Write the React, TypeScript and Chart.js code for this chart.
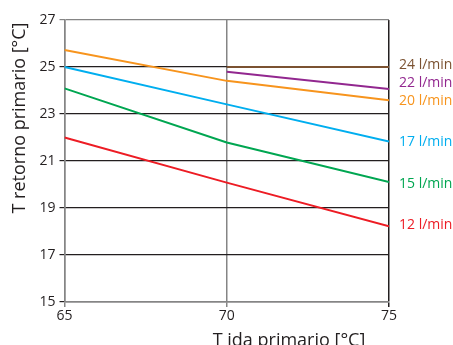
import React, { useEffect, useRef } from "react";
import { Chart, registerables } from "chart.js";

Chart.register(...registerables);

const xValues = [65, 70, 75];
const seriesLabels = ["24 l/min", "22 l/min", "20 l/min", "17 l/min", "15 l/min", "12 l/min"];
const flow24 = [null, 25.0, 25.0];
const flow22 = [null, 24.8, 24.06];
const flow20 = [25.72, 24.41, 23.59];
const flow17 = [25.0, 23.41, 21.83];
const flow15 = [24.09, 21.79, 20.11];
const flow12 = [22.0, 20.08, 18.22];
const seriesColors = ["#7b5231", "#92278f", "#f7941d", "#00aeef", "#00a651", "#ed1c24"];
const labelShift = [-2, -6, 1, 1, 2, -1];
const xTitle = "T ida primario [°C]";
const yTitle = "T retorno primario [°C]";

const FONT = "'Open Sans', 'DejaVu Sans', sans-serif";

export default function App() {
  const ref = useRef<HTMLCanvasElement | null>(null);
  useEffect(() => {
    document.body.style.margin = "0";
    const allSeries = [flow24, flow22, flow20, flow17, flow15, flow12];
    const datasets = allSeries.map((vals, i) => ({
      label: seriesLabels[i],
      data: xValues.map((x, j) => ({ x, y: vals[j] })),
      borderColor: seriesColors[i],
      backgroundColor: seriesColors[i],
      borderWidth: 2,
      pointRadius: 0,
      tension: 0,
      fill: false,
    }));

    const labelPlugin = {
      id: "endLabels",
      afterDatasetsDraw(chart: any) {
        const ctx = chart.ctx;
        const ys = chart.scales.y;
        ctx.save();
        ctx.font = `14px ${FONT}`;
        ctx.textBaseline = "middle";
        ctx.textAlign = "left";
        allSeries.forEach((vals, i) => {
          const v = vals[vals.length - 1] as number;
          ctx.fillStyle = seriesColors[i];
          ctx.fillText(seriesLabels[i], chart.chartArea.right + 10, ys.getPixelForValue(v) + labelShift[i]);
        });
        // axis titles
        ctx.fillStyle = "#231f20";
        ctx.font = `18px ${FONT}`;
        ctx.textAlign = "center";
        ctx.textBaseline = "alphabetic";
        ctx.fillText(xTitle, 289, 346);
        ctx.translate(25, 118);
        ctx.rotate(-Math.PI / 2);
        ctx.fillText(yTitle, 0, 0);
        ctx.restore();
      },
    };

    const dark = "#231f20";
    const gray = "#858585";

    const chart = new Chart(ref.current as HTMLCanvasElement, {
      type: "line",
      data: { datasets: datasets as any },
      plugins: [labelPlugin],
      options: {
        responsive: false,
        animation: false,
        layout: { padding: { top: 20, right: 64, left: 0, bottom: 0 } },
        plugins: { legend: { display: false }, tooltip: { enabled: false } },
        scales: {
          x: {
            type: "linear",
            min: 65,
            max: 75,
            afterFit: (s: any) => { s.height = 43; },
            ticks: { stepSize: 5, color: dark, font: { family: FONT, size: 14 }, padding: 1 },
            grid: {
              color: (c: any) => (c.tick && c.tick.value === 75 ? dark : gray),
              lineWidth: 1.5,
              tickLength: 5,
            },
            border: { color: gray, width: 1.5 },
          },
          y: {
            min: 15,
            max: 27,
            afterFit: (s: any) => { s.width = 64.5; },
            ticks: { stepSize: 2, color: dark, font: { family: FONT, size: 14 }, padding: 4 },
            grid: {
              color: (c: any) => (c.tick && c.tick.value === 27 ? gray : dark),
              lineWidth: 1.2,
              tickLength: 5,
            },
            border: { color: gray, width: 1.5 },
          },
        },
      },
    });
    return () => chart.destroy();
  }, []);
  return (
    <div style={{ position: "absolute", left: 0, top: 0, width: 453, height: 345, background: "#fff" }}>
      <canvas ref={ref} width={453} height={345} />
    </div>
  );
}
